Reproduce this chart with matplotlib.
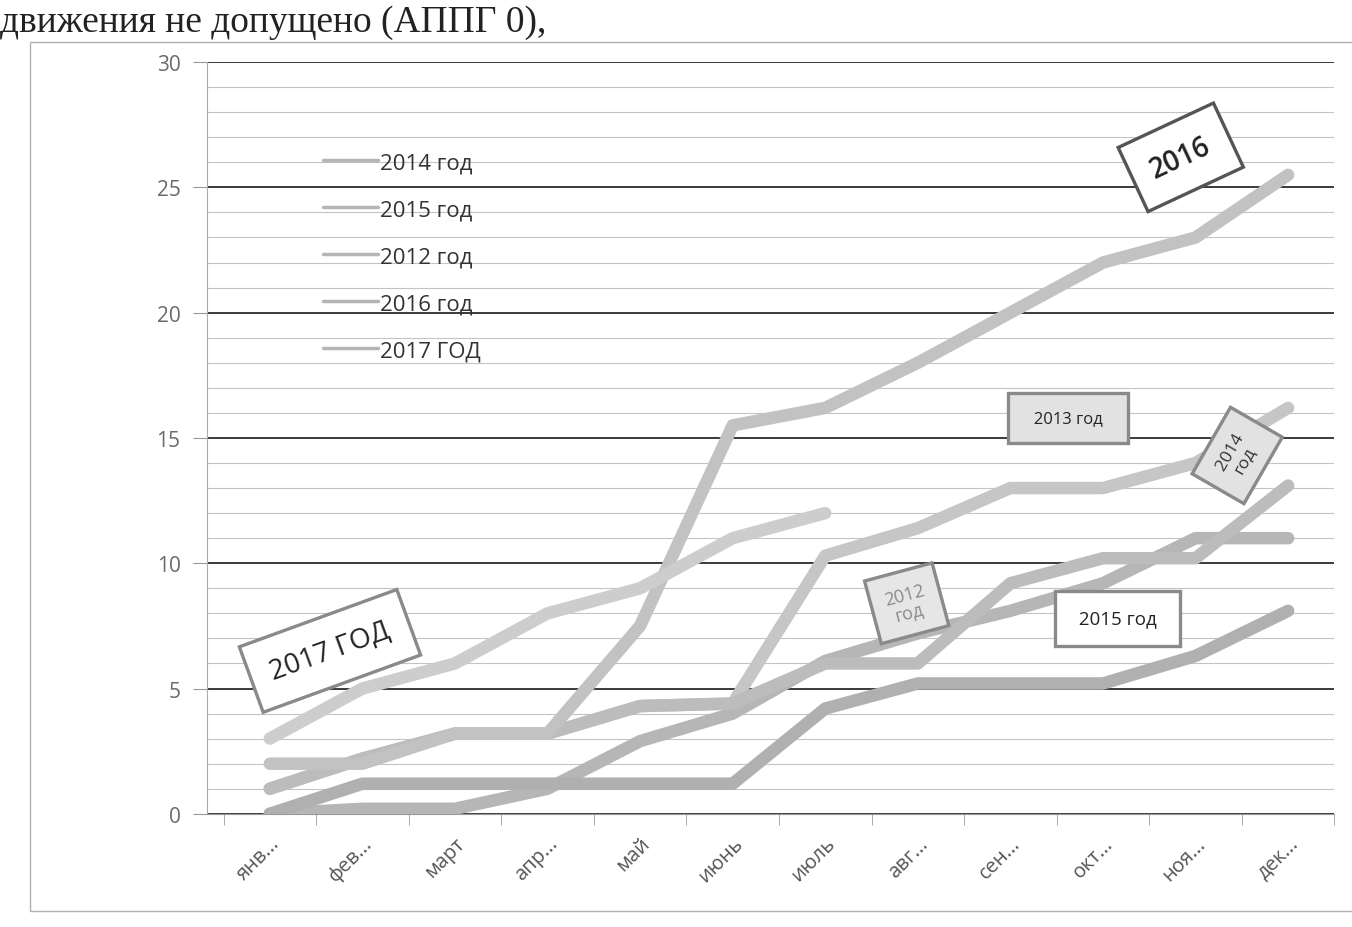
import numpy as np
import matplotlib
matplotlib.use("Agg")
import matplotlib.pyplot as plt
from matplotlib.patches import Rectangle

# ---- data ----
months = ['янв...', 'фев...', 'март', 'апр...', 'май', 'июнь', 'июль',
          'авг...', 'сен...', 'окт...', 'ноя...', 'дек...']
y2014 = [1, 2.2, 3.2, 3.2, 4.3, 4.4, 6, 6, 9.2, 10.2, 10.2, 13.1]
y2015 = [0, 1.2, 1.2, 1.2, 1.2, 1.2, 4.2, 5.2, 5.2, 5.2, 6.3, 8.1]
y2012 = [0, 0.2, 0.2, 1, 2.9, 4, 6.1, 7.2, 8.1, 9.2, 11, 11]
y2016 = [2, 2, 3.2, 3.2, 7.5, 15.5, 16.2, 18, 20, 22, 23, 25.5]
y2017 = [3, 5, 6, 8, 9, 11, 12]
y2013 = [1, 2.2, 3.2, 3.2, 4.3, 4.4, 10.3, 11.4, 13, 13, 14, 16.2]

legend_labels = ['2014 год', '2015 год', '2012 год', '2016 год', '2017 ГОД']
header = 'движения не допущено (АППГ 0),'

plt.rcParams['font.family'] = ['Open Sans', 'DejaVu Sans']

fig = plt.figure(figsize=(13.52, 9.28), dpi=100)
fig.patch.set_facecolor('white')

# outer frame of the pasted chart
fig.patches.append(Rectangle((0.022, 0.017), 1.0, 0.937, transform=fig.transFigure,
                             fill=False, edgecolor='#b0b0b0', lw=1.0))
fig.text(0.0, 0.966, header, family=['Liberation Serif'], fontsize=27,
         color='#222222', ha='left', va='baseline')

ax = fig.add_axes([0.153, 0.122, 0.834, 0.810])
x = np.arange(len(months))

lw = 9
kw = dict(lw=lw, solid_capstyle='round', solid_joinstyle='round', zorder=3)
ax.plot(x, y2013, color='#c6c6c6', **kw)
l12, = ax.plot(x, y2012, color='#b6b6b6', **kw)
l14, = ax.plot(x, y2014, color='#bcbcbc', **kw)
l15, = ax.plot(x, y2015, color='#b0b0b0', **kw)
l16, = ax.plot(x, y2016, color='#c2c2c2', **kw)
l17, = ax.plot(x[:len(y2017)], y2017, color='#cdcdcd', **kw)

ax.set_xlim(-0.68, 11.45)
ax.set_ylim(0, 30)
ax.set_yticks(np.arange(0, 31, 5))
ax.set_yticks(np.arange(0, 31, 1), minor=True)
ax.grid(which='major', axis='y', color='#3a3a3a', lw=1.4, zorder=1)
ax.grid(which='minor', axis='y', color='#c4c4c4', lw=0.8, zorder=0)
ax.tick_params(axis='y', which='major', labelsize=15, labelcolor='#6a6a6a',
               color='#999999', length=10, pad=9)
ax.tick_params(axis='y', which='minor', length=0)

ax.set_xticks(x)
ax.set_xticklabels(months, rotation=45, ha='right', rotation_mode='anchor',
                   fontsize=14.5, color='#555555')
ax.tick_params(axis='x', which='major', length=0, pad=14)
ax.set_xticks(np.arange(-0.5, 11.6, 1), minor=True)
ax.tick_params(axis='x', which='minor', length=8, color='#999999')

for s in ['top', 'right']:
    ax.spines[s].set_visible(False)
ax.spines['left'].set_color('#aaaaaa')
ax.spines['bottom'].set_color('#999999')

leg = ax.legend([l14, l15, l12, l16, l17], legend_labels, loc='upper left',
                bbox_to_anchor=(0.085, 0.907), frameon=False, fontsize=16,
                labelspacing=1.17, handlelength=2.5, handletextpad=0.1,
                labelcolor='#333333')
for h in leg.get_lines():
    h.set_linewidth(2.5)
    h.set_color('#b5b5b5')

def callout(xd, yd, txt, rot, fs, fc, ec, tc='#222222', weight='normal', pad=0.7):
    ax.text(xd, yd, txt, rotation=rot, fontsize=fs, color=tc, ha='center', va='center',
            fontweight=weight, zorder=6, rotation_mode='anchor', linespacing=1.0,
            bbox=dict(boxstyle='square,pad=%g' % pad, fc=fc, ec=ec, lw=2.4))

callout(0.65, 6.5, '2017 ГОД', 20, 20, 'white', '#8a8a8a', pad=0.75)
callout(9.84, 26.2, '2016', 25, 20, 'white', '#555555', weight='semibold', pad=0.75)
callout(8.62, 15.8, '  2013 год  ', 0, 12, '#e2e2e2', '#8a8a8a', pad=1.0)
callout(10.45, 14.3, ' 2014 \nгод', 60, 12.5, '#e2e2e2', '#8a8a8a', tc='#333333', pad=0.8)
callout(6.88, 8.4, '2012\nгод', 15, 13, '#e6e6e6', '#8a8a8a', tc='#8a8a8a', pad=0.8)
callout(9.16, 7.8, ' 2015 год ', 0, 13.5, 'white', '#8a8a8a', pad=1.0)

fig.savefig('out.png', dpi=100, facecolor='white')
